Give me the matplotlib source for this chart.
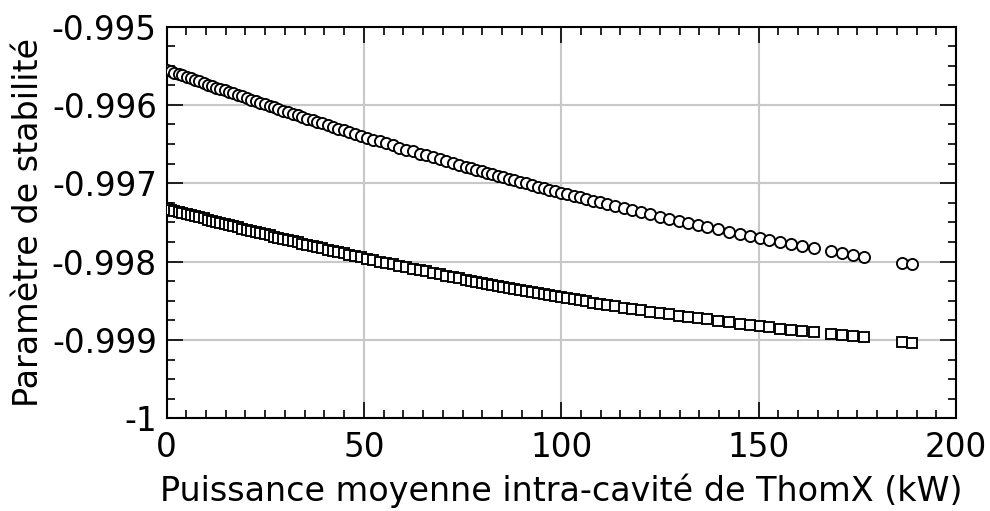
import matplotlib
matplotlib.use("Agg")
import matplotlib.pyplot as plt
from matplotlib.ticker import MultipleLocator, FuncFormatter

# ---- data ----
power_kw = [
    0.0, 1.2, 2.0, 3.1, 4.0, 5.2, 6.1, 7.3, 8.2, 9.4,
    10.5, 11.4, 12.6, 13.5, 14.7, 15.8, 16.8, 18.0, 19.1, 20.3,
    21.4, 22.6, 23.7, 24.9, 26.1, 27.2, 28.3, 29.6, 30.8, 32.0,
    33.2, 34.4, 35.7, 37.0, 38.2, 39.5, 40.8, 42.1, 43.5, 44.9,
    46.3, 47.8, 49.3, 50.8, 52.4, 54.0, 55.6, 57.3, 59.0, 60.7,
    62.4, 64.1, 65.8, 67.5, 69.2, 70.9, 72.6, 74.2, 75.8, 77.2,
    78.5, 79.8, 81.1, 82.5, 83.9, 85.3, 86.7, 88.1, 89.5, 91.0,
    92.5, 94.0, 95.5, 97.0, 98.5, 100.0, 101.5, 103.1, 104.7, 106.3,
    108.0, 109.8, 111.7, 113.7, 115.8, 118.0, 120.3, 122.6, 125.0, 127.4,
    129.8, 132.2, 134.6, 136.8, 139.6, 142.4, 145.2, 147.8, 150.3, 152.6,
    155.4, 158.2, 161.0, 164.1, 168.2, 171.0, 173.8, 176.6, 186.2, 188.8,
]

stability_circles = [
    -0.995550, -0.995572, -0.995587, -0.995607, -0.995624, -0.995645, -0.995662, -0.995684, -0.995700, -0.995721,
    -0.995741, -0.995757, -0.995779, -0.995795, -0.995816, -0.995835, -0.995853, -0.995874, -0.995893, -0.995914,
    -0.995933, -0.995954, -0.995973, -0.995993, -0.996014, -0.996032, -0.996051, -0.996073, -0.996093, -0.996113,
    -0.996133, -0.996153, -0.996175, -0.996196, -0.996216, -0.996237, -0.996258, -0.996279, -0.996302, -0.996324,
    -0.996347, -0.996370, -0.996394, -0.996418, -0.996443, -0.996467, -0.996492, -0.996518, -0.996544, -0.996570,
    -0.996595, -0.996621, -0.996646, -0.996671, -0.996696, -0.996721, -0.996746, -0.996769, -0.996791, -0.996811,
    -0.996830, -0.996848, -0.996866, -0.996886, -0.996905, -0.996924, -0.996943, -0.996963, -0.996981, -0.997002,
    -0.997022, -0.997042, -0.997061, -0.997081, -0.997101, -0.997120, -0.997139, -0.997160, -0.997180, -0.997200,
    -0.997221, -0.997244, -0.997267, -0.997291, -0.997317, -0.997343, -0.997370, -0.997397, -0.997425, -0.997452,
    -0.997480, -0.997506, -0.997533, -0.997557, -0.997587, -0.997617, -0.997646, -0.997673, -0.997698, -0.997721,
    -0.997749, -0.997776, -0.997803, -0.997832, -0.997870, -0.997895, -0.997920, -0.997944, -0.998024, -0.998035,
]

stability_squares = [
    -0.997320, -0.997337, -0.997348, -0.997363, -0.997376, -0.997392, -0.997404, -0.997421, -0.997433, -0.997449,
    -0.997464, -0.997476, -0.997492, -0.997504, -0.997520, -0.997535, -0.997548, -0.997563, -0.997578, -0.997593,
    -0.997607, -0.997623, -0.997637, -0.997652, -0.997667, -0.997681, -0.997695, -0.997711, -0.997726, -0.997741,
    -0.997756, -0.997770, -0.997786, -0.997802, -0.997816, -0.997832, -0.997847, -0.997862, -0.997879, -0.997895,
    -0.997911, -0.997929, -0.997946, -0.997963, -0.997981, -0.997999, -0.998016, -0.998035, -0.998054, -0.998072,
    -0.998090, -0.998109, -0.998126, -0.998144, -0.998162, -0.998180, -0.998197, -0.998213, -0.998229, -0.998243,
    -0.998256, -0.998268, -0.998281, -0.998295, -0.998308, -0.998321, -0.998335, -0.998348, -0.998361, -0.998375,
    -0.998388, -0.998402, -0.998415, -0.998429, -0.998442, -0.998455, -0.998468, -0.998482, -0.998495, -0.998509,
    -0.998523, -0.998538, -0.998553, -0.998569, -0.998586, -0.998603, -0.998621, -0.998638, -0.998656, -0.998673,
    -0.998691, -0.998708, -0.998724, -0.998739, -0.998758, -0.998776, -0.998794, -0.998810, -0.998826, -0.998839,
    -0.998856, -0.998872, -0.998887, -0.998904, -0.998925, -0.998939, -0.998953, -0.998966, -0.999025, -0.999038,
]

x_label = "Puissance moyenne intra-cavité de ThomX (kW)"
y_label = "Paramètre de stabilité"

# ---- figure ----
plt.rcParams["font.family"] = ["DejaVu Sans"]
plt.rcParams["axes.unicode_minus"] = False

fig = plt.figure(figsize=(9.9, 5.11), dpi=100)
ax = fig.add_axes([0.1682, 0.1814, 0.9657 - 0.1682, 0.9481 - 0.1814])

ax.plot(power_kw, stability_circles, linestyle="none", marker="o",
        markersize=8.0, markerfacecolor="white", markeredgecolor="black",
        markeredgewidth=1.35, zorder=3)
ax.plot(power_kw, stability_squares, linestyle="none", marker="s",
        markersize=7.0, markerfacecolor="white", markeredgecolor="black",
        markeredgewidth=1.35, zorder=3)

ax.set_xlim(0, 200)
ax.set_ylim(-1.0, -0.995)
ax.xaxis.set_major_locator(MultipleLocator(50))
ax.xaxis.set_minor_locator(MultipleLocator(5))
ax.yaxis.set_major_locator(MultipleLocator(0.001))
ax.yaxis.set_minor_locator(MultipleLocator(0.00025))
ax.yaxis.set_major_formatter(FuncFormatter(lambda v, p: "%g" % round(v, 6)))
ax.xaxis.set_major_formatter(FuncFormatter(lambda v, p: "%g" % v))

ax.grid(True, which="major", color="#c8c8c8", linewidth=1.5, zorder=0)
ax.set_axisbelow(True)

for s in ax.spines.values():
    s.set_linewidth(1.5)

ax.tick_params(which="both", direction="in", top=True, right=True,
               width=1.2, labelsize=23.5, colors="black")
ax.tick_params(which="major", length=11.5)
ax.tick_params(which="minor", length=6)
ax.tick_params(axis="x", which="major", pad=9)
ax.tick_params(axis="y", which="major", pad=7)

ax.set_xlabel(x_label, fontsize=24, labelpad=7)
ax.set_ylabel(y_label, fontsize=24, labelpad=5)

fig.savefig("out.png", dpi=100)
